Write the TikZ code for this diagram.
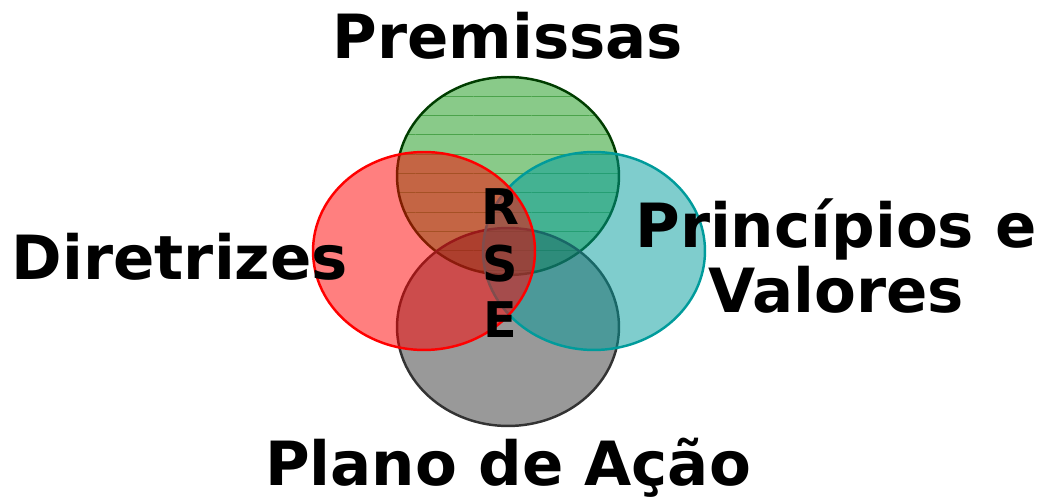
\documentclass[tikz,border=0pt]{standalone}
\usepackage{fontspec}
\newfontfamily\rsefont{DejaVu Sans}
\usetikzlibrary{shapes.geometric,patterns.meta}

\begin{document}
\begin{tikzpicture}[x=0.02cm,y=-0.02cm]
  \tikzstyle{set}=[ellipse,inner sep=0pt,minimum width=4.44cm,minimum height=3.96cm,
                   line width=1.4pt,fill opacity=0.5]
  \tikzstyle{title}=[font=\rsefont\bfseries\fontsize{34.7}{40}\selectfont,inner sep=0pt]
  \tikzstyle{letter}=[font=\rsefont\bfseries\fontsize{28}{32}\selectfont,inner sep=0pt]
  \definecolor{premgreen}{RGB}{20,150,20}
  \definecolor{teal}{RGB}{0,155,155}
  \useasboundingbox (0,0) rectangle (1042,502);

  % the four sets
  \node [set,draw=black!60!green!60!black,fill=premgreen] (prem) at (508,176) {};
  \path [opacity=0.45,pattern={Lines[angle=0,distance=11pt,line width=0.5pt]},pattern color=green!45!black]
    (prem.center) ellipse [x radius=110,y radius=98];
  \node [set,draw=black!80,fill=black!80] (plano) at (508,327) {};
  \node [set,draw=teal,fill=teal] (valores) at (594,251) {};
  \node [set,draw=red,fill=red] (diret) at (424,251) {};

  % labels
  \node [title] (tprem) at (508,36) {Premissas};
  \node [title] (tdiret) at (180,257) {Diretrizes};
  \node [title,align=center] (tvalores) at (836,256) {Princípios e\\[-3pt]Valores};
  \node [title] (tplano) at (508,468) {Plano de Ação};

  \node [letter] (r) at (500,207) {R};
  \node [letter] (s) at (500,264) {S};
  \node [letter] (e) at (500,320) {E};
\end{tikzpicture}
\end{document}
